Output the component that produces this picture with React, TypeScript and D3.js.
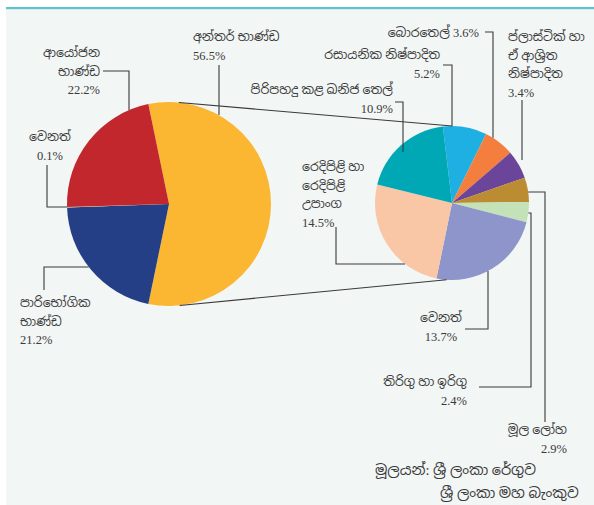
import React from 'react';
import * as d3 from 'd3';

// main pie: export composition
const mainCats = ['අන්තර් භාණ්ඩ', 'පාරිභෝගික භාණ්ඩ', 'වෙනත්', 'ආයෝජන භාණ්ඩ'];
const mainVals = [56.5, 21.2, 0.1, 22.2];
const mainColors = ['#FBB632', '#243F85', '#F6CF8E', '#C1272D'];

// breakdown of intermediate goods
const subCats = ['රසායනික නිෂ්පාදිත', 'බොරතෙල්', 'ප්ලාස්ටික් හා ඒ ආශ්‍රිත නිෂ්පාදිත', 'මූල ලෝහ', 'තිරිගු හා ඉරිගු', 'වෙනත්', 'රෙදිපිළි හා රෙදිපිළි උපාංග', 'පිරිපහදු කළ ඛනිජ තෙල්'];
const subVals = [5.2, 3.6, 3.4, 2.9, 2.4, 13.7, 14.5, 10.9];
const subColors = ['#1FB0E3', '#F47E3E', '#6A459A', '#BB8C31', '#C4E2B8', '#8D95CB', '#F9C7A6', '#00A8B6'];

const sourceLines = ['මූලයන්: ශ්‍රී ලංකා රේගුව', 'ශ්‍රී ලංකා මහ බැංකුව'];

const W = 594, H = 505;
const deg = Math.PI / 180;
// serif digits, Sinhala falls through to the Noto face
const font = "'Liberation Serif', 'Noto Sans Sinhala', 'Noto Serif Sinhala', serif";
const ink = '#3a3a3a';

type Pt = [number, number];

// end a leader on the circle, going straight from the last elbow point
function hitCircle(cx: number, cy: number, r: number, p: Pt, dir: 'up' | 'down' | 'left' | 'right'): Pt {
    if (dir === 'up' || dir === 'down') {
        const dy = Math.sqrt(Math.max(0, r * r - (p[0] - cx) ** 2));
        return [p[0], dir === 'down' ? cy - dy : cy + dy];
    }
    const dx = Math.sqrt(Math.max(0, r * r - (p[1] - cy) ** 2));
    return [dir === 'right' ? cx - dx : cx + dx, p[1]];
}

const Label = ({x, y, lines, anchor, gap = 18.5, size = 12.5}: {x: number, y: number, lines: string[], anchor: string, gap?: number, size?: number}) => (
    <text x={x} y={y} textAnchor={anchor} fontFamily={font} fontSize={size} fill={ink}>
        {lines.map((l, i) => <tspan key={i} x={x} dy={i === 0 ? 0 : gap}>{l}</tspan>)}
    </text>
);

export default function App() {
    const big = {cx: 169, cy: 204, r: 102};
    const small = {cx: 452, cy: 203, r: 77};

    const mainPie = d3.pie<number>().sort(null).value(d => d).startAngle(-11.7 * deg).endAngle(348.3 * deg)(mainVals);
    const subPie = d3.pie<number>().sort(null).value(d => d).startAngle(-6.8 * deg).endAngle(353.2 * deg)(subVals);
    const arcBig = d3.arc<d3.PieArcDatum<number>>().innerRadius(0).outerRadius(big.r);
    const arcSmall = d3.arc<d3.PieArcDatum<number>>().innerRadius(0).outerRadius(small.r);

    const onCircle = (c: {cx: number, cy: number, r: number}, a: number): Pt =>
        [c.cx + c.r * Math.sin(a * deg), c.cy - c.r * Math.cos(a * deg)];

    // connector lines between the two pies
    const connTop = [onCircle(big, 5.5), onCircle(small, 0)];
    const connBot = [onCircle(big, 174), onCircle(small, 184)];

    const line = d3.line();
    const B = (p: Pt, d: any) => hitCircle(big.cx, big.cy, big.r, p, d);
    const S = (p: Pt, d: any) => hitCircle(small.cx, small.cy, small.r, p, d);

    const leaders: Pt[][] = [
        [[219, 65], B([219, 65], 'down')],
        [[103, 71], [129, 71], B([129, 71], 'down')],
        [[47, 165], [47, 207], B([47, 207], 'right')],
        [[44, 290], [44, 267], B([44, 267], 'right')],
        [[395, 102], [403, 102], [403, 152]],
        [[443, 65], [452, 65], S([452, 65], 'down')],
        [[485, 32], [493, 32], S([493, 32], 'down')],
        [[522, 100], [522, 160]],
        [S([545, 192], 'left'), [545, 192], [545, 422]],
        [S([531, 213], 'left'), [531, 213], [531, 387], [479, 387]],
        [S([488, 330], 'up'), [488, 329], [465, 329]],
        [[336, 227], [336, 264], S([336, 264], 'right')],
    ];

    return (
        <div style={{position: 'absolute', left: 0, top: 0}}>
            <svg width={W} height={H}>
                <rect x={6} y={8} width={W - 6} height={H - 8} fill="#F2F6F5" />
                <rect x={6} y={7} width={W - 6} height={2.2} fill="#5BC4CF" />

                <g transform={`translate(${big.cx},${big.cy})`}>
                    {mainPie.map((d, i) => <path key={i} d={arcBig(d) || ''} fill={mainColors[i]} />)}
                </g>
                <g transform={`translate(${small.cx},${small.cy})`}>
                    {subPie.map((d, i) => <path key={i} d={arcSmall(d) || ''} fill={subColors[i]} />)}
                </g>

                <g fill="none" stroke="#3a3a3a" strokeWidth={1.1}>
                    <path d={line(connTop as Pt[]) || ''} />
                    <path d={line(connBot as Pt[]) || ''} />
                    {leaders.map((pts, i) => <path key={i} d={line(pts) || ''} />)}
                </g>

                <Label x={193} y={41} anchor="start" lines={[mainCats[0], `${mainVals[0]}%`]} />
                <Label x={100} y={57} anchor="end" lines={['ආයෝජන', 'භාණ්ඩ', `${mainVals[3]}%`]} />
                <Label x={50} y={141} anchor="middle" lines={[mainCats[2], `${mainVals[2]}%`]} />
                <Label x={20} y={307} anchor="start" lines={['පාරිභෝගික', 'භාණ්ඩ', `${mainVals[1]}%`]} />

                <Label x={393} y={94} anchor="end" lines={[subCats[7], `${subVals[7]}%`]} />
                <Label x={440} y={59} anchor="end" lines={[subCats[0], `${subVals[0]}%`]} />
                <Label x={479} y={37} anchor="end" lines={[`${subCats[1]} ${subVals[1]}%`]} />
                <Label x={508} y={41} anchor="start" lines={['ප්ලාස්ටික් හා', 'ඒ ආශ්‍රිත', 'නිෂ්පාදිත', `${subVals[2]}%`]} />
                <Label x={567} y={434} anchor="end" lines={[subCats[3], `${subVals[3]}%`]} />
                <Label x={467} y={386} anchor="end" lines={[subCats[4], `${subVals[4]}%`]} />
                <Label x={441} y={322} anchor="middle" lines={[subCats[5], `${subVals[5]}%`]} />
                <Label x={302} y={171} anchor="start" lines={['රෙදිපිළි හා', 'රෙදිපිළි', 'උපාංග', `${subVals[6]}%`]} />

                <text x={375} y={475} fontFamily={font} fontSize={14.5} fill={ink}>{sourceLines[0]}</text>
                <text x={440} y={498} fontFamily={font} fontSize={14.5} fill={ink}>{sourceLines[1]}</text>
            </svg>
        </div>
    );
}
